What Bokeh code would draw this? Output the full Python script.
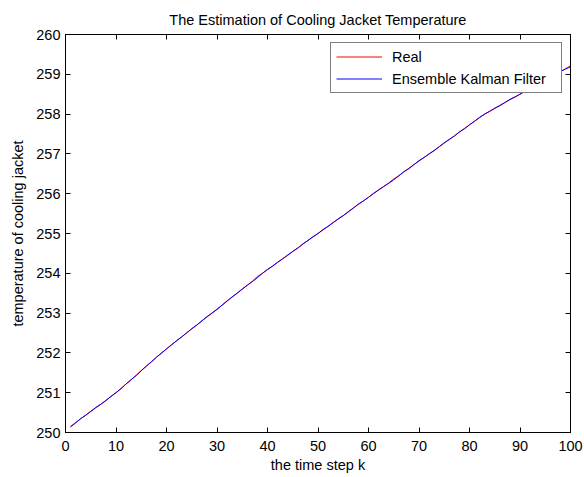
from bokeh.plotting import figure
from bokeh.models import LinearAxis, Legend, LegendItem, Range1d, FixedTicker, CustomJSTickFormatter
from bokeh.embed import file_html
from bokeh.resources import INLINE

# ---- data ----
k = list(range(1, 101))
real = [
    250.15, 250.25, 250.34, 250.44, 250.53, 250.62, 250.71, 250.81, 250.90, 251.00,
    251.11, 251.22, 251.32, 251.44, 251.56, 251.66, 251.78, 251.89, 252.00, 252.10,
    252.21, 252.30, 252.40, 252.51, 252.60, 252.70, 252.81, 252.90, 253.00, 253.10,
    253.20, 253.31, 253.40, 253.50, 253.61, 253.70, 253.80, 253.92, 254.00, 254.09,
    254.18, 254.27, 254.37, 254.45, 254.55, 254.64, 254.73, 254.83, 254.91, 255.00,
    255.09, 255.18, 255.28, 255.36, 255.45, 255.55, 255.64, 255.73, 255.82, 255.91,
    256.00, 256.10, 256.18, 256.27, 256.37, 256.45, 256.55, 256.64, 256.73, 256.82,
    256.91, 257.00, 257.09, 257.18, 257.27, 257.37, 257.45, 257.55, 257.64, 257.73,
    257.82, 257.91, 258.00, 258.07, 258.14, 258.22, 258.29, 258.36, 258.43, 258.50,
    258.57, 258.64, 258.71, 258.79, 258.86, 258.93, 259.00, 259.07, 259.14, 259.21,
]
enkf = [
    250.14, 250.24, 250.35, 250.43, 250.53, 250.63, 250.71, 250.80, 250.91, 251.00,
    251.10, 251.22, 251.33, 251.43, 251.55, 251.67, 251.77, 251.89, 251.99, 252.10,
    252.20, 252.31, 252.40, 252.50, 252.61, 252.70, 252.80, 252.91, 253.00, 253.09,
    253.20, 253.30, 253.41, 253.50, 253.60, 253.70, 253.79, 253.89, 254.00, 254.10,
    254.18, 254.28, 254.36, 254.46, 254.55, 254.63, 254.74, 254.82, 254.92, 255.00,
    255.10, 255.18, 255.27, 255.37, 255.45, 255.54, 255.64, 255.74, 255.82, 255.91,
    256.01, 256.09, 256.18, 256.26, 256.35, 256.45, 256.55, 256.63, 256.73, 256.83,
    256.91, 257.00, 257.08, 257.18, 257.28, 257.36, 257.45, 257.55, 257.63, 257.73,
    257.82, 257.92, 258.00, 258.07, 258.15, 258.21, 258.29, 258.37, 258.43, 258.50,
    258.58, 258.64, 258.71, 258.78, 258.86, 258.94, 259.00, 259.07, 259.13, 259.19,
]
x_ticks = [0, 10, 20, 30, 40, 50, 60, 70, 80, 90, 100]
y_ticks = [250, 251, 252, 253, 254, 255, 256, 257, 258, 259, 260]
title_text = "The Estimation of Cooling Jacket Temperature"
x_label = "the time step k"
y_label = "temperature of cooling jacket"
series_names = ["Real", "Ensemble Kalman Filter"]

FONT = "Liberation Sans"
FS = "14.5px"

p = figure(frame_width=505, frame_height=398,
           min_border_left=65, min_border_right=14, min_border_top=34, min_border_bottom=45,
           x_range=Range1d(0, 100), y_range=Range1d(250, 260),
           output_backend="svg", toolbar_location=None,
           background_fill_color="white", border_fill_color="white",
           title=title_text)
p.title.align = "center"
p.title.vertical_align = "top"
p.title.text_font = FONT
p.title.text_font_size = FS
p.title.text_font_style = "normal"
p.title.text_color = "black"
p.title.standoff = 10
p.xgrid.visible = False
p.ygrid.visible = False
p.outline_line_color = "black"
p.outline_line_width = 1

def style_axis(ax, ticks, show_labels):
    ax.ticker = FixedTicker(ticks=ticks)
    ax.minor_tick_line_color = None
    ax.major_tick_in = 5
    ax.major_tick_out = 0
    ax.major_tick_line_color = "black"
    ax.axis_line_color = "black"
    ax.major_label_text_font = FONT
    ax.major_label_text_color = "black"
    ax.major_label_text_font_size = FS
    ax.axis_label_text_font = FONT
    ax.axis_label_text_font_style = "normal"
    ax.axis_label_text_color = "black"
    ax.axis_label_text_font_size = FS
    if not show_labels:
        ax.formatter = CustomJSTickFormatter(code="return '';")
        ax.major_label_standoff = 0

style_axis(p.xaxis[0], x_ticks, True)
style_axis(p.yaxis[0], y_ticks, True)
p.xaxis[0].axis_label = x_label
p.yaxis[0].axis_label = y_label
p.xaxis[0].major_label_standoff = 8
p.xaxis[0].axis_label_standoff = 3
p.yaxis[0].major_label_standoff = 5
p.yaxis[0].axis_label_standoff = 7

top_ax = LinearAxis()
right_ax = LinearAxis()
style_axis(top_ax, x_ticks, False)
style_axis(right_ax, y_ticks, False)
p.add_layout(top_ax, "above")
p.add_layout(right_ax, "right")

r1 = p.line(k, real, line_color="#ff0000", line_width=1)
r2 = p.line(k, enkf, line_color="#0000ff", line_width=1)

legend = Legend(items=[LegendItem(label=series_names[0], renderers=[r1]),
                       LegendItem(label=series_names[1], renderers=[r2])],
                location="top_right", margin=8, padding=5, spacing=5,
                glyph_width=46, glyph_height=17, label_height=17, label_width=164,
                label_standoff=10,
                label_text_font=FONT, label_text_font_size=FS, label_text_color="black",
                border_line_color="black", border_line_width=1,
                background_fill_color="white", background_fill_alpha=1)
p.add_layout(legend, "center")

open("out.html", "w").write(file_html(p, INLINE))
